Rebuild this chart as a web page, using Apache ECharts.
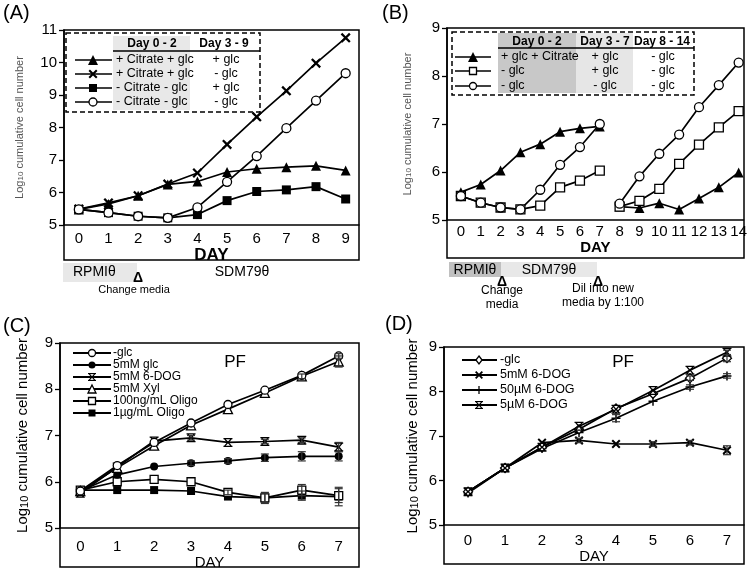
<!DOCTYPE html>
<html><head><meta charset="utf-8">
<script src="https://cdn.jsdelivr.net/npm/echarts@6/dist/echarts.min.js"></script>
<style>html,body{margin:0;padding:0;background:#fff}#c{width:750px;height:571px}</style>
</head><body><div id="c"></div>
<script>
// ---------- Panel A ----------
const daysA = [0,1,2,3,4,5,6,7,8,9];
const A_tri  = [5.48,5.65,5.9,6.25,6.34,6.63,6.73,6.78,6.82,6.68];
const A_x    = [5.49,5.68,5.9,6.26,6.6,7.48,8.33,9.13,9.98,10.76];
const A_sq   = [5.48,5.38,5.27,5.22,5.32,5.75,6.03,6.08,6.18,5.8];
const A_circ = [5.48,5.38,5.27,5.22,5.54,6.33,7.12,7.98,8.83,9.67];
const A_col1 = ['+ Citrate + glc','+ Citrate + glc','- Citrate - glc','- Citrate - glc'];
const A_col2 = ['+ glc','- glc','+ glc','- glc'];
const A_head = ['Day 0 - 2','Day 3 - 9'];
// ---------- Panel B ----------
const daysB1 = [0,1,2,3,4,5,6,7];
const daysB2 = [8,9,10,11,12,13,14];
const B_tri1  = [5.58,5.74,6.03,6.41,6.58,6.84,6.91,6.95];
const B_tri2  = [5.28,5.25,5.35,5.22,5.45,5.68,5.99];
const B_sq1   = [5.5,5.36,5.26,5.22,5.3,5.68,5.82,6.03];
const B_sq2   = [5.28,5.4,5.65,6.17,6.57,6.93,7.27];
const B_circ1 = [5.5,5.36,5.26,5.22,5.63,6.15,6.52,7.0];
const B_circ2 = [5.34,5.91,6.38,6.78,7.35,7.81,8.28];
const B_col1 = ['+ glc + Citrate','- glc','- glc'];
const B_col2 = ['+ glc','+ glc','- glc'];
const B_col3 = ['- glc','- glc','- glc'];
const B_head = ['Day 0 - 2','Day 3 - 7','Day 8 - 14'];
// ---------- Panel C ----------
const daysC = [0,1,2,3,4,5,6,7];
const C_names = ['-glc','5mM glc','5mM 6-DOG','5mM Xyl','100ng/mL Oligo','1\u00b5g/mL Oligo'];
const C_noglc  = [5.8,6.35,6.85,7.27,7.67,7.98,8.3,8.72];
const C_glc    = [5.8,6.15,6.33,6.4,6.45,6.52,6.55,6.55];
const C_dog    = [5.75,6.32,6.88,6.95,6.85,6.87,6.9,6.75];
const C_xyl    = [5.8,6.3,6.78,7.22,7.57,7.92,8.28,8.6];
const C_olig100= [5.82,6.0,6.05,6.0,5.77,5.65,5.82,5.7];
const C_olig1  = [5.82,5.82,5.82,5.8,5.68,5.65,5.7,5.68];
const C_noglcErr  = [0,0,0,0,0,0,0,0.05];
const C_glcErr    = [0,0,0,0.05,0.05,0.08,0.1,0.1];
const C_dogErr    = [0,0,0,0.05,0,0.05,0.05,0.1];
const C_xylErr    = [0,0,0,0,0,0,0.05,0.12];
const C_olig100Err= [0,0,0,0,0.05,0.12,0.12,0.15];
const C_olig1Err  = [0,0,0,0,0,0.1,0.1,0.2];
// ---------- Panel D ----------
const daysD = [0,1,2,3,4,5,6,7];
const D_names = ['-glc','5mM 6-DOG','50\u00b5M 6-DOG','5\u00b5M 6-DOG'];
const D_noglc = [5.75,6.28,6.75,7.15,7.62,7.95,8.3,8.75];
const D_dog5m = [5.75,6.28,6.85,6.9,6.82,6.82,6.85,6.68];
const D_dog50 = [5.72,6.28,6.72,7.08,7.4,7.78,8.1,8.35];
const D_dog5u = [5.75,6.28,6.75,7.22,7.6,8.02,8.48,8.88];
const D_noglcErr = [0,0,0,0,0,0,0.05,0.08];
const D_dog5mErr = [0,0,0,0.05,0,0.05,0.05,0.1];
const D_dog50Err = [0,0,0,0,0.08,0,0.05,0.05];
const D_dog5uErr = [0,0,0,0,0,0,0,0.05];

const FONT = '"Liberation Sans", Arial, sans-serif';
const POLY = {
  x: [[[0,1.6],[1.6,0],[5,3.4],[8.4,0],[10,1.6],[6.6,5],[10,8.4],[8.4,10],[5,6.6],[1.6,10],[0,8.4],[3.4,5]]],
  plus: [[[4.2,0],[5.8,0],[5.8,4.2],[10,4.2],[10,5.8],[5.8,5.8],[5.8,10],[4.2,10],[4.2,5.8],[0,5.8],[0,4.2],[4.2,4.2]]],
  xb: [[[0,0],[10,0],[10,1.4],[0,1.4]],[[0,8.6],[10,8.6],[10,10],[0,10]],
       [[0.8,1.4],[2.6,1.4],[5,4],[7.4,1.4],[9.2,1.4],[6.2,5],[9.2,8.6],[7.4,8.6],[5,6],[2.6,8.6],[0.8,8.6],[3.8,5]]]
};
function polyPath(k){ return 'path://'+POLY[k].map(p=>'M'+p.map(q=>q.join(',')).join('L')+'Z').join(' '); }
function symName(s){ return POLY[s] ? polyPath(s) : s; }
function ser(name, g, xs, ys, sym, filled, size){
  return {
    type:'line', name, xAxisIndex:g, yAxisIndex:g,
    data: xs.map((x,i)=>[x, ys[i]]),
    symbol: symName(sym), symbolSize: size, showSymbol:true,
    itemStyle: filled ? {color:'#000', borderWidth:0} : {color:'#fff', borderColor:'#000', borderWidth:1.3},
    lineStyle: {color:'#000', width:1.7},
    emphasis:{disabled:true}, animation:false, z:3
  };
}
function errSer(g, xs, ys, es){
  return {
    type:'custom', xAxisIndex:g, yAxisIndex:g, silent:true, animation:false, z:4,
    data: xs.map((x,i)=>[x, ys[i], es[i]]).filter(d=>d[2]>0),
    renderItem:(params, api)=>{
      const x=api.value(0), y=api.value(1), e=api.value(2);
      const t=api.coord([x,y+e]), b=api.coord([x,y-e]); const w=4;
      const st={stroke:'#333', lineWidth:1.2};
      return {type:'group', children:[
        {type:'line', shape:{x1:t[0],y1:t[1],x2:b[0],y2:b[1]}, style:st},
        {type:'line', shape:{x1:t[0]-w,y1:t[1],x2:t[0]+w,y2:t[1]}, style:st},
        {type:'line', shape:{x1:b[0]-w,y1:b[1],x2:b[0]+w,y2:b[1]}, style:st}
      ]};
    }
  };
}
function gSym(sym, filled, cx, cy, s){
  const fill = filled ? '#000' : '#fff';
  const st = {fill, stroke:'#000', lineWidth: filled?0:1.3};
  if (sym==='circle') return {type:'circle', shape:{cx,cy,r:s/2}, style:st, z:20};
  if (sym==='rect') return {type:'rect', shape:{x:cx-s/2,y:cy-s/2,width:s,height:s}, style:st, z:20};
  if (sym==='triangle') return {type:'polygon', shape:{points:[[cx,cy-s/2],[cx+s/2,cy+s/2],[cx-s/2,cy+s/2]]}, style:st, z:20};
  if (sym==='diamond') return {type:'polygon', shape:{points:[[cx,cy-s/2],[cx+s/2.6,cy],[cx,cy+s/2],[cx-s/2.6,cy]]}, style:st, z:20};
  return {type:'group', z:20, children: POLY[sym].map(p=>({type:'polygon', z:20,
    shape:{points:p.map(q=>[cx-s/2+q[0]*s/10, cy-s/2+q[1]*s/10])}, style:{fill:'#000'}}))};
}
function gLine(x1,y1,x2,y2,w,dash){
  return {type:'line', shape:{x1,y1,x2,y2}, style:{stroke:'#000', lineWidth:w||1.6, lineDash:dash||null}, z:19};
}
function gText(text,x,y,size,align,opt){
  opt=opt||{};
  return {type:'text', x, y, z:21, style:{text, font:(opt.bold?'bold ':'')+size+'px '+FONT, fill:opt.color||'#000', textAlign:align||'left', textVerticalAlign:'middle'}};
}
function gRect(x,y,w,h,fill,stroke,lw,dash,z){
  return {type:'rect', shape:{x,y,width:w,height:h}, style:{fill:fill||'transparent', stroke:stroke||null, lineWidth:lw||0, lineDash:dash||null}, z:z||10};
}

const grids = [
  {left:64, top:30, width:295, height:195},
  {left:447, top:28, width:297, height:192},
  {left:60, top:343, width:299, height:185},
  {left:444, top:347, width:300, height:178}
];
const xr = [[-0.5,9.45],[-0.7,14.25],[-0.55,7.55],[-0.65,7.46]];
const yr = [[5,11],[5,9],[5,9],[5,9]];
const xLab = [daysA, daysB1.concat(daysB2), daysC, daysD];
const xLabFont = [15,15,15,15], xLabMargin=[6,4,11,8];
const dayCfg = [{bold:true,size:17,gap:19},{bold:true,size:15,gap:20},{bold:false,size:15,gap:22},{bold:false,size:15,gap:23}];
const yName = [{size:11,color:'#555',gap:39},{size:11,color:'#555',gap:34},{size:15,color:'#000',gap:30},{size:15,color:'#000',gap:24}];

const xAxes = grids.map((g,i)=>({
  type:'value', gridIndex:i, min:xr[i][0], max:xr[i][1],
  axisLine:{show:true, onZero:false, lineStyle:{color:'#000', width:1.5}},
  axisTick:{show:false}, splitLine:{show:false},
  axisLabel:{customValues:xLab[i], fontSize:xLabFont[i], color:'#000', margin:xLabMargin[i], fontFamily:FONT, hideOverlap:false},
  name:'DAY', nameLocation:'middle', nameGap:dayCfg[i].gap,
  nameTextStyle:{fontSize:dayCfg[i].size, fontWeight:dayCfg[i].bold?'bold':'normal', color:'#000', fontFamily:FONT}
}));
const yAxes = grids.map((g,i)=>({
  type:'value', gridIndex:i, min:yr[i][0], max:yr[i][1], interval:1, position:'left',
  axisLine:{show:true, onZero:false, lineStyle:{color:'#000', width:1.5}},
  axisTick:{show:true, length:5, lineStyle:{color:'#000', width:1.3}},
  splitLine:{show:false},
  axisLabel:{fontSize:15, color:'#000', margin:7, fontFamily:FONT},
  name:'{a|Log}{b|10}{a| cumulative cell number}', nameLocation:'middle', nameGap:yName[i].gap,
  nameTextStyle:{rich:{
    a:{fontSize:yName[i].size, color:yName[i].color, fontFamily:FONT},
    b:{fontSize:Math.round(yName[i].size*0.7), color:yName[i].color, fontFamily:FONT, verticalAlign:'bottom'}
  }}
}));

const series = [
  ser('A1',0,daysA,A_tri,'triangle',true,10),
  ser('A2',0,daysA,A_x,'x',true,10),
  ser('A3',0,daysA,A_sq,'rect',true,9),
  ser('A4',0,daysA,A_circ,'circle',false,9),
  ser('B1a',1,daysB1,B_tri1,'triangle',true,10),
  ser('B1b',1,daysB2,B_tri2,'triangle',true,10),
  ser('B2a',1,daysB1,B_sq1,'rect',false,9),
  ser('B2b',1,daysB2,B_sq2,'rect',false,9),
  ser('B3a',1,daysB1,B_circ1,'circle',false,9),
  ser('B3b',1,daysB2,B_circ2,'circle',false,9),
  errSer(2,daysC,C_noglc,C_noglcErr),
  errSer(2,daysC,C_glc,C_glcErr),
  errSer(2,daysC,C_dog,C_dogErr),
  errSer(2,daysC,C_xyl,C_xylErr),
  errSer(2,daysC,C_olig100,C_olig100Err),
  errSer(2,daysC,C_olig1,C_olig1Err),
  ser(C_names[5],2,daysC,C_olig1,'rect',true,8),
  ser(C_names[4],2,daysC,C_olig100,'rect',false,8),
  ser(C_names[1],2,daysC,C_glc,'circle',true,8),
  ser(C_names[2],2,daysC,C_dog,'xb',true,9),
  ser(C_names[3],2,daysC,C_xyl,'triangle',false,9),
  ser(C_names[0],2,daysC,C_noglc,'circle',false,8),
  errSer(3,daysD,D_noglc,D_noglcErr),
  errSer(3,daysD,D_dog5m,D_dog5mErr),
  errSer(3,daysD,D_dog50,D_dog50Err),
  errSer(3,daysD,D_dog5u,D_dog5uErr),
  ser('D'+D_names[1],3,daysD,D_dog5m,'x',true,9),
  ser('D'+D_names[2],3,daysD,D_dog50,'plus',true,9),
  ser('D'+D_names[0],3,daysD,D_noglc,'diamond',false,9),
  ser('D'+D_names[3],3,daysD,D_dog5u,'xb',true,9)
];

// ---------- graphics: frames, legends, annotations ----------
const G = [];
G.push(gRect(64,30,295,230,null,'#000',1.5,null,15));
G.push(gRect(447,28,297,230,null,'#000',1.5,null,15));
G.push(gRect(60,343,299,224,null,'#000',1.5,null,15));
G.push(gRect(444,347,300,217,null,'#000',1.5,null,15));
G.push(gText('(A)',3,13,20,'left'));
G.push(gText('(B)',382,13,20,'left'));
G.push(gText('(C)',3,326,20,'left'));
G.push(gText('(D)',385,324,20,'left'));
// legend A
G.push(gRect(113,36,77,74,'#e8e8e8',null,0,null,11));
G.push(gRect(66,33,194,79,null,'#000',1.5,[5,3],18));
G.push(gText(A_head[0],152,44,12,'center',{bold:true}));
G.push(gText(A_head[1],224,44,12,'center',{bold:true}));
G.push(gLine(113,51,260,51,1.5));
const A_syms = [['triangle',true,10],['x',true,9],['rect',true,8],['circle',false,8]];
const A_rows = [60,74,88,102];
A_rows.forEach((y,i)=>{
  G.push(gLine(75,y,112,y,1.6));
  G.push(gSym(A_syms[i][0],A_syms[i][1],93,y,A_syms[i][2]));
  G.push(gText(A_col1[i],116,y,12.5,'left'));
  G.push(gText(A_col2[i],226,y,12.5,'center'));
});
// legend B
G.push(gRect(498,33,78,60,'#c8c8c8',null,0,null,11));
G.push(gRect(576,33,57,60,'#e6e6e6',null,0,null,11));
G.push(gRect(452,32,242,63,null,'#000',1.5,[5,3],18));
G.push(gText(B_head[0],537,42,12,'center',{bold:true}));
G.push(gText(B_head[1],605,42,12,'center',{bold:true}));
G.push(gText(B_head[2],662,42,12,'center',{bold:true}));
G.push(gLine(498,48,694,48,1.5));
const B_syms = [['triangle',true,10],['rect',false,7],['circle',false,7]];
const B_rows = [57,71,86];
B_rows.forEach((y,i)=>{
  G.push(gLine(455,y,491,y,1.6));
  G.push(gSym(B_syms[i][0],B_syms[i][1],473,y,B_syms[i][2]));
  G.push(gText(B_col1[i],501,y,12.5,'left'));
  G.push(gText(B_col2[i],605,y,12.5,'center'));
  G.push(gText(B_col3[i],663,y,12.5,'center'));
});
// annotations A
G.push(gRect(63,263,74,19,'#e8e8e8',null,0,null,11));
G.push(gText('RPMI\u03b8',73,272,14,'left'));
G.push(gText('SDM79\u03b8',242,272,14,'center'));
G.push(gText('\u0394',138,278,14,'center',{bold:true}));
G.push(gText('Change media',134,290,11,'center'));
// annotations B
G.push(gRect(449,262,52,15,'#c0c0c0',null,0,null,11));
G.push(gRect(501,262,96,15,'#e8e8e8',null,0,null,11));
G.push(gText('RPMI\u03b8',475,270,14,'center'));
G.push(gText('SDM79\u03b8',549,270,14,'center'));
G.push(gText('\u0394',502,282,14,'center',{bold:true}));
G.push(gText('\u0394',598,282,14,'center',{bold:true}));
G.push(gText('Change',502,291,12,'center'));
G.push(gText('media',502,305,12,'center'));
G.push(gText('Dil into new',603,289,12,'center'));
G.push(gText('media by 1:100',603,303,12,'center'));
// legend C
const C_syms = [['circle',false,7],['circle',true,7],['xb',true,8],['triangle',false,8],['rect',false,7],['rect',true,7]];
const C_rows = [353,365,377,389,401,413];
C_rows.forEach((y,i)=>{
  G.push(gLine(73,y,111,y,1.8));
  G.push(gSym(C_syms[i][0],C_syms[i][1],92,y,C_syms[i][2]));
  G.push(gText(C_names[i],113,y,12,'left'));
});
G.push(gText('PF',235,362,17,'center'));
// legend D
const D_syms = [['diamond',false,8],['x',true,8],['plus',true,8],['xb',true,8]];
const D_rows = [360,375,390,405];
D_rows.forEach((y,i)=>{
  G.push(gLine(462,y,497,y,1.8));
  G.push(gSym(D_syms[i][0],D_syms[i][1],479,y,D_syms[i][2]));
  G.push(gText(D_names[i],500,y,12.5,'left'));
});
G.push(gText('PF',623,362,17,'center'));

const chart = echarts.init(document.getElementById('c'), null, {renderer:'canvas'});
chart.setOption({
  animation:false,
  backgroundColor:'#fff',
  textStyle:{fontFamily:FONT},
  grid: grids,
  xAxis: xAxes,
  yAxis: yAxes,
  series: series,
  graphic: G
});
</script>
</body></html>
